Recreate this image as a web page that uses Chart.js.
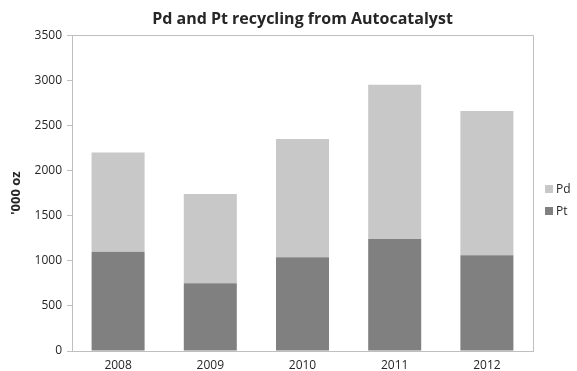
<!DOCTYPE html>
<html>
<head>
<meta charset="utf-8">
<script src="https://cdn.jsdelivr.net/npm/chart.js@4.4.1/dist/chart.umd.min.js"></script>
<style>
  html, body { margin: 0; padding: 0; background: #ffffff; }
  #wrap { width: 577px; height: 371px; position: relative; }
</style>
</head>
<body>
<div id="wrap"><canvas id="chart" width="577" height="371"></canvas></div>
<script>
// Recycled metal from autocatalysts, thousand troy ounces
const years = ['2008', '2009', '2010', '2011', '2012'];
const ptValues = [1100, 750, 1040, 1240, 1060];
const pdValues = [1100, 990, 1310, 1710, 1600];
const yTicks = [0, 500, 1000, 1500, 2000, 2500, 3000, 3500];

const FONT = '"Open Sans", "Liberation Sans", sans-serif';
const TEXT = '#262626';
const LINE = '#bfbfbf';

// Frame line on the top and right of the plot area
const frame = {
  id: 'frame',
  afterDatasetsDraw(chart) {
    const { ctx, chartArea: a } = chart;
    ctx.save();
    ctx.strokeStyle = LINE;
    ctx.lineWidth = 1;
    ctx.beginPath();
    ctx.moveTo(Math.round(a.left) + 0.5, Math.round(a.top) + 0.5);
    ctx.lineTo(Math.round(a.right) + 0.5, Math.round(a.top) + 0.5);
    ctx.lineTo(Math.round(a.right) + 0.5, Math.round(a.bottom) + 0.5);
    ctx.stroke();
    ctx.restore();
  }
};

// Legend at the right, top series listed first
const sideLegend = {
  id: 'sideLegend',
  afterDraw(chart) {
    const { ctx, chartArea: a } = chart;
    const sets = chart.data.datasets.slice().reverse();
    ctx.save();
    ctx.font = '12px ' + FONT;
    ctx.textBaseline = 'middle';
    ctx.textAlign = 'left';
    sets.forEach((ds, i) => {
      const cy = 189 + i * 22;
      const bx = a.right + 12;
      ctx.fillStyle = ds.backgroundColor;
      ctx.fillRect(bx, cy - 4, 8, 8);
      ctx.fillStyle = TEXT;
      ctx.fillText(ds.label, bx + 11, cy + 1);
    });
    ctx.restore();
  }
};

new Chart(document.getElementById('chart'), {
  type: 'bar',
  data: {
    labels: years,
    datasets: [
      { label: 'Pt', data: ptValues, backgroundColor: '#808080' },
      { label: 'Pd', data: pdValues, backgroundColor: '#c8c8c8' }
    ]
  },
  options: {
    responsive: false,
    animation: false,
    devicePixelRatio: 1,
    layout: { padding: { left: 0, right: 44, top: 0, bottom: 0 } },
    datasets: { bar: { barPercentage: 0.575, categoryPercentage: 1 } },
    plugins: {
      legend: { display: false },
      tooltip: { enabled: false },
      title: {
        display: true,
        fullSize: false,
        text: 'Pd and Pt recycling from Autocatalyst',
        color: TEXT,
        font: { family: FONT, size: 16, weight: 'bold' },
        padding: { top: 10, bottom: 6 }
      }
    },
    scales: {
      x: {
        stacked: true,
        grid: { display: false, drawTicks: false },
        border: { display: true, color: LINE, width: 1 },
        ticks: { color: TEXT, font: { family: FONT, size: 12 }, padding: 7 },
        afterFit(scale) { scale.height = 20; }
      },
      y: {
        stacked: true,
        min: 0,
        max: 3500,
        afterBuildTicks(scale) { scale.ticks = yTicks.map(v => ({ value: v })); },
        grid: { drawOnChartArea: false, drawTicks: true, tickLength: 5, color: LINE },
        border: { display: true, color: LINE, width: 1 },
        ticks: {
          color: TEXT,
          font: { family: FONT, size: 12 },
          padding: 5,
          callback: (v) => String(v)
        },
        title: {
          display: true,
          text: "'000 oz",
          color: TEXT,
          font: { family: FONT, size: 13, weight: 'bold' },
          padding: { top: 8, bottom: 0 }
        },
        afterFit(scale) { scale.width = 72; }
      }
    }
  },
  plugins: [frame, sideLegend]
});
</script>
</body>
</html>
